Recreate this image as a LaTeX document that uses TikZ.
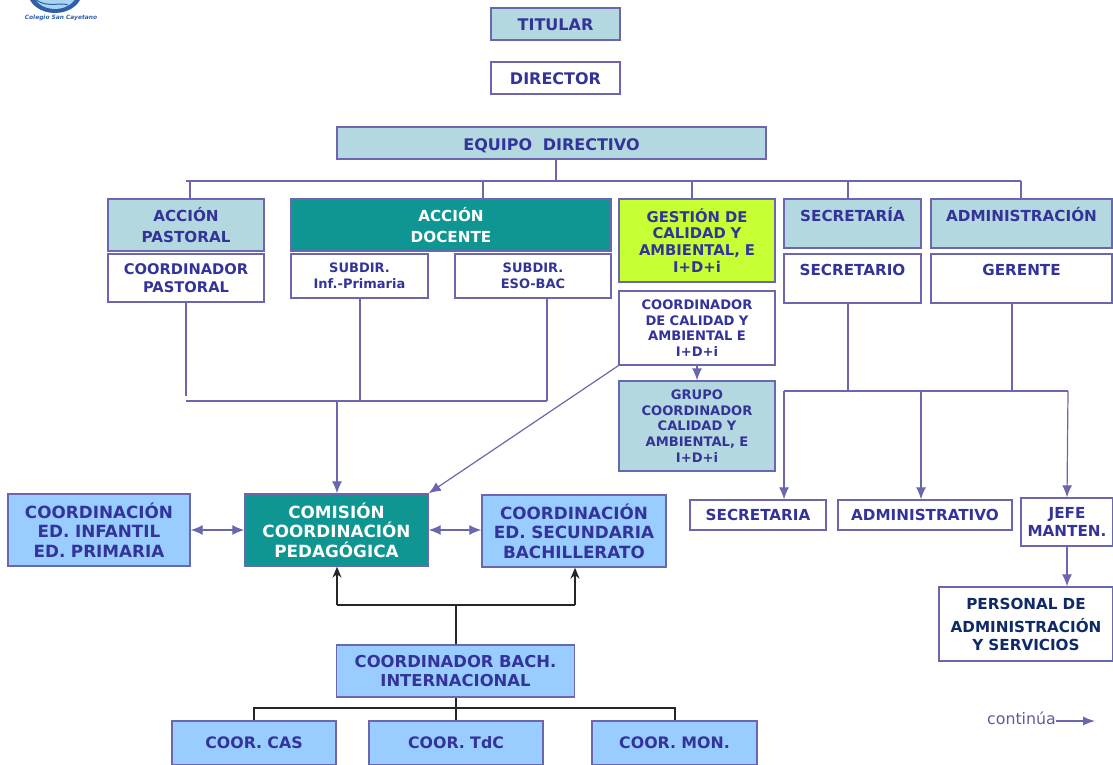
\documentclass[tikz,border=0pt]{standalone}
\usepackage{fontspec}
\setmainfont{DejaVu Sans}
\usetikzlibrary{arrows.meta}
\definecolor{ink}{HTML}{333399}
\definecolor{edge}{HTML}{6A66B0}
\definecolor{pale}{HTML}{B4D8DF}
\definecolor{tealf}{HTML}{0F9693}
\definecolor{lime}{HTML}{C6FF33}
\definecolor{sky}{HTML}{99CCFF}
\definecolor{navy}{HTML}{0F2A66}
\definecolor{logoa}{HTML}{2F5FA8}
\definecolor{logob}{HTML}{A8D4F0}
\tikzset{
  bx/.style={draw=edge,line width=1.4pt,inner sep=0pt,align=center,text=ink,font=\bfseries\fontsize{15.2}{18}\selectfont,fill=white},
  sz/.style 2 args={minimum width=#1 pt,minimum height=#2 pt,text width=#1 pt},
  palebox/.style={bx,fill=pale},
  tealbox/.style={bx,fill=tealf,text=white},
  skybox/.style={bx,fill=sky},
  oneline/.style={font=\bfseries\fontsize{16}{18}\selectfont,text height=14pt,text depth=0pt},
  toptext/.style={font=\bfseries\fontsize{15.2}{14}\selectfont},
  conn/.style={draw=edge,line width=1.2pt},
  arr/.style={conn,-{Latex[length=12pt,width=10pt]}},
  arrs/.style={conn,{Latex[length=12pt,width=10pt]}-{Latex[length=12pt,width=10pt]}},
  dark/.style={draw=black!85,line width=1.2pt},
  darr/.style={dark,-{Stealth[length=11pt,width=9pt]}}
}
\begin{document}
\begin{tikzpicture}[x=1pt,y=-1pt]
\useasboundingbox (0,0) rectangle (1113,765);
% logo
\begin{scope}
\clip (0,0) rectangle (120,14);
\fill[logoa] (55,-8) ellipse (27 and 21);
\fill[logob] (55,-10) ellipse (23 and 19);
\draw[logoa,line width=1pt] (36,0) .. controls (48,8) and (60,2) .. (68,5);
\end{scope}
\node[font=\bfseries\itshape\fontsize{5.9}{8}\selectfont,text=logoa,inner sep=0pt] (logo) at (61,18) {Colegio San Cayetano};
% top
\node[palebox,sz={129}{32},oneline] (tit) at (555.5,24) {TITULAR};
\node[bx,sz={129}{32},oneline] (dir) at (555.5,78) {DIRECTOR};
\node[palebox,sz={429}{32},oneline] (eq) at (551.5,143) {EQUIPO\ \ DIRECTIVO};
% row
\node[palebox,sz={156}{52},font=\bfseries\fontsize{15.2}{21}\selectfont] (ap) at (186,225) {ACCIÓN\\PASTORAL};
\node[bx,font=\bfseries\fontsize{14.7}{18}\selectfont,sz={156}{48}] (cp) at (186,278) {COORDINADOR\\PASTORAL};
\node[tealbox,sz={320}{52},font=\bfseries\fontsize{15.2}{21}\selectfont] (ad) at (451,225) {ACCIÓN\\DOCENTE};
\node[bx,font=\bfseries\fontsize{13}{15.5}\selectfont,sz={137}{44}] (sa) at (359.5,276) {SUBDIR.\\Inf.-Primaria};
\node[bx,font=\bfseries\fontsize{13}{15.5}\selectfont,sz={156}{44}] (sb) at (533,276) {SUBDIR.\\ESO-BAC};
\node[bx,fill=lime,sz={156}{83},font=\bfseries\fontsize{14.8}{16.8}\selectfont] (ge) at (697,240.5) {GESTIÓN DE\\CALIDAD Y\\AMBIENTAL, E\\I+D+i};
\node[bx,font=\bfseries\fontsize{13.1}{15.5}\selectfont,sz={156}{74}] (cc) at (697,328) {COORDINADOR\\DE CALIDAD Y\\AMBIENTAL E\\I+D+i};
\node[palebox,font=\bfseries\fontsize{13.1}{15.8}\selectfont,sz={156}{90}] (gr) at (697,426) {GRUPO\\COORDINADOR\\CALIDAD Y\\AMBIENTAL, E\\I+D+i};
\node[palebox,sz={137}{49},toptext] (se) at (852.5,223.5) {SECRETARÍA\\ \strut};
\node[bx,sz={137}{49},toptext] (so) at (852.5,278.5) {SECRETARIO\\ \strut};
\node[palebox,sz={181}{49},toptext] (ad2) at (1021.5,223.5) {ADMINISTRACIÓN\\ \strut};
\node[bx,sz={181}{49},toptext] (ge2) at (1021.5,278.5) {GERENTE\\ \strut};
% middle
\node[skybox,font=\bfseries\fontsize{16.8}{19.5}\selectfont,sz={182}{72}] (ci) at (99,530) {COORDINACIÓN\\ED. INFANTIL\\ED. PRIMARIA};
\node[tealbox,font=\bfseries\fontsize{16.8}{19.5}\selectfont,sz={183}{72}] (cm) at (336.5,530) {COMISIÓN\\COORDINACIÓN\\PEDAGÓGICA};
\node[skybox,font=\bfseries\fontsize{16.8}{19.5}\selectfont,sz={184}{72}] (cs) at (574,531) {COORDINACIÓN\\ED. SECUNDARIA\\BACHILLERATO};
\node[bx,sz={136}{30}] (sc) at (758,515) {SECRETARIA};
\node[bx,sz={174}{30}] (ai) at (925,515) {ADMINISTRATIVO};
\node[bx,sz={92}{48}] (je) at (1067,522) {JEFE\\MANTEN.};
\node[bx,text=navy,sz={174}{74},font=\bfseries\fontsize{15.2}{18}\selectfont] (pa) at (1026,624) {PERSONAL DE\\[5pt]ADMINISTRACIÓN\\Y SERVICIOS};
\node[skybox,font=\bfseries\fontsize{16.4}{19}\selectfont,sz={238}{52}] (cb) at (455.5,671) {COORDINADOR BACH.\\INTERNACIONAL};
\node[skybox,sz={164}{44},font=\bfseries\fontsize{15.8}{18}\selectfont] (ca) at (254,743) {COOR. CAS};
\node[skybox,sz={174}{44},font=\bfseries\fontsize{15.8}{18}\selectfont] (ct) at (456,743) {COOR. TdC};
\node[skybox,sz={165}{44},font=\bfseries\fontsize{15.8}{18}\selectfont] (cn) at (674.5,743) {COOR. MON.};
\node[inner sep=0pt,text=edge!90!black,font=\fontsize{15.8}{18}\selectfont,anchor=east] (co) at (1056,718) {continúa};
% junctions
\coordinate (b0) at (556,181);
\coordinate (bL) at (186,181);
\coordinate (bD) at (190,181);
\coordinate (bR) at (1021,181);
\coordinate (dd) at (556,159);
\coordinate (lL) at (186,401);
\coordinate (lA) at (360,401);
\coordinate (lB) at (547,401);
\coordinate (lC) at (337,401);
\coordinate (rL) at (784,391);
\coordinate (r2) at (848,391);
\coordinate (r3) at (921,391);
\coordinate (r4) at (1012,391);
\coordinate (rR) at (1068,391);
\coordinate (mA) at (337,605);
\coordinate (mB) at (456,605);
\coordinate (mC) at (575,605);
\coordinate (nA) at (254,708);
\coordinate (nB) at (456,708);
\coordinate (nC) at (675,708);
\coordinate (ce) at (1095,721);
% bus top
\draw[conn] (dd) -- (b0);
\draw[conn] (bL) -- (bR);
\draw[conn] (bD) -- (ap.north -| bD);
\draw[conn] (483,181) -- (483,199);
\draw[conn] (692,181) -- (692,199);
\draw[conn] (848,181) -- (848,199);
\draw[conn] (bR) -- (ad2.north -| bR);
% left collector
\draw[conn] (cp.south) -- (186,396);
\draw[conn] (sa.south -| lA) -- (lA);
\draw[conn] (sb.south -| lB) -- (lB);
\draw[conn] (lL) -- (lB);
\draw[arr] (lC) -- (cm.north -| lC);
\draw[arr] (cc.south west) -- (cm.north east);
\draw[arr] (cc.south) -- (gr.north);
% right collector
\draw[conn] (so.south -| r2) -- (r2);
\draw[conn] (ge2.south -| r4) -- (r4);
\draw[conn] (rL) -- (rR);
\draw[arr] (rL) -- (sc.north -| rL);
\draw[arr] (r3) -- (ai.north -| r3);
\draw[arr] (rR) -- (je.north);
\draw[arr] (je.south) -- (pa.north -| je.south);
% double
\draw[arrs] (ci.east) -- (cm.west);
\draw[arrs] (cm.east) -- (cs.west |- cm.east);
% bottom
\draw[dark] (cb.north -| mB) -- (mB);
\draw[darr] (mA) -- (cm.south -| mA);
\draw[darr] (mC) -- (cs.south -| mC);
\draw[dark] (mA) -- (mC);
\draw[dark] (cb.south -| nB) -- (ct.north -| nB);
\draw[dark] (ca.north -| nA) -- (nA) -- (nC) -- (cn.north -| nC);
% continua
\draw[conn,-{Latex[length=12pt,width=9pt]}] (co.east |- ce) -- (ce);
\end{tikzpicture}
\end{document}
